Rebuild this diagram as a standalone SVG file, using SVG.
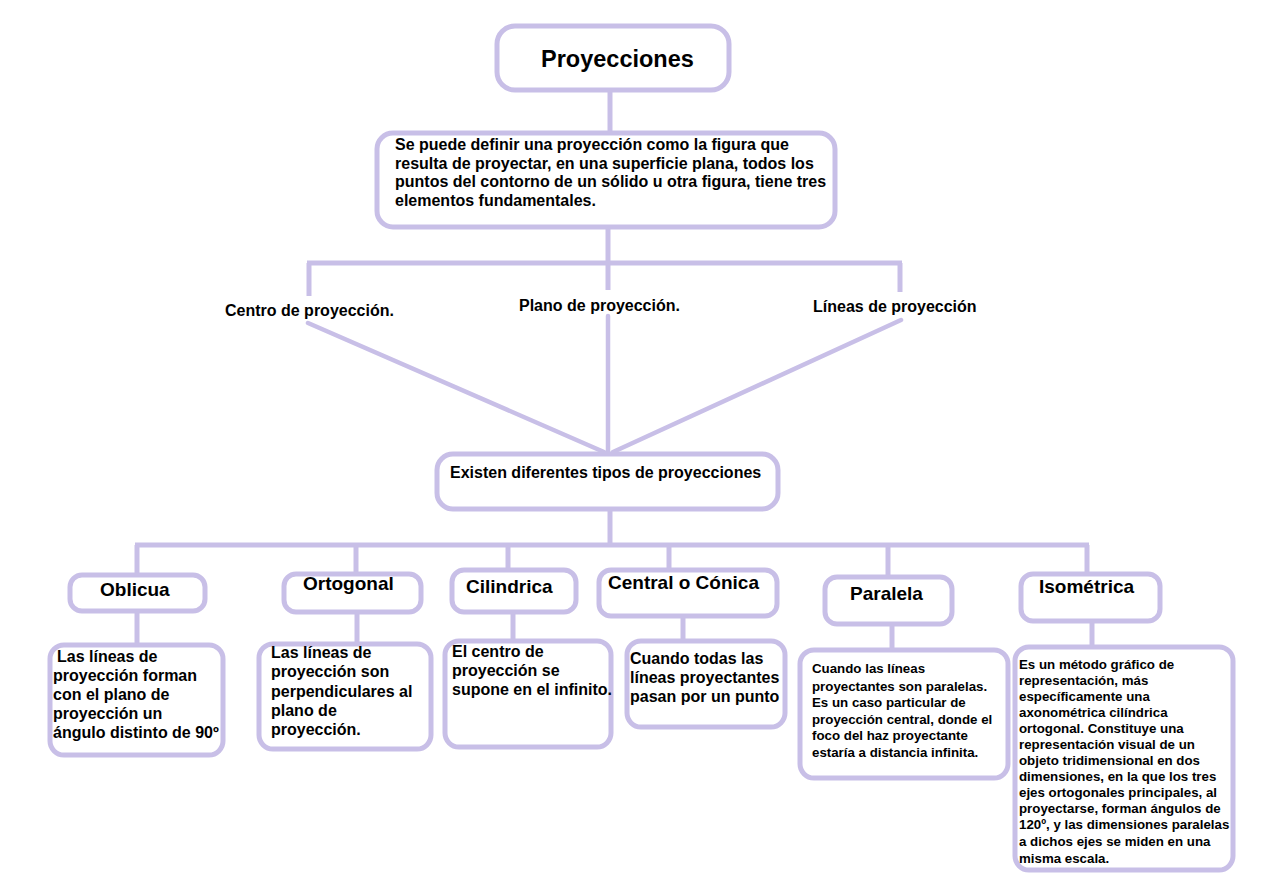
<svg xmlns="http://www.w3.org/2000/svg" width="1274" height="878" viewBox="0 0 1274 878">
<style>
.box{fill:#ffffff;stroke:#C8BFE7;stroke-width:5}
.ln{fill:none;stroke:#C8BFE7;stroke-width:5}
.diag{fill:none;stroke:#C8BFE7;stroke-width:4.5;stroke-linecap:round}
text{font-family:"Liberation Sans",Arial,sans-serif;font-weight:bold;fill:#000000}
.t16{font-size:16px}
.t13{font-size:13.3px}
.h{font-size:19px}
.title{font-size:23.5px}
</style>
<rect x="0" y="0" width="1274" height="878" fill="#ffffff"/>
<g id="connectors">
<path class="ln" d="M610,91 V132"/>
<path class="ln" d="M608,228 V263"/>
<path class="ln" d="M307,263 H902"/>
<path class="ln" d="M309,263 V296"/>
<path class="ln" d="M608,263 V290"/>
<path class="ln" d="M900,263 V292"/>
<path class="diag" d="M308,323 L604,452"/>
<path class="diag" d="M608,316 V454"/>
<path class="diag" d="M901,320 L613,452"/>
<path class="ln" d="M610,510 V545"/>
<path class="ln" d="M135,545 H1089"/>
<path class="ln" d="M137,545 V574"/>
<path class="ln" d="M356,545 V572"/>
<path class="ln" d="M508,545 V568"/>
<path class="ln" d="M669,545 V568"/>
<path class="ln" d="M888,545 V575"/>
<path class="ln" d="M1087,545 V572"/>
<path class="ln" d="M137,612 V643"/>
<path class="ln" d="M357,613 V642"/>
<path class="ln" d="M513,613 V639"/>
<path class="ln" d="M683,617 V639"/>
<path class="ln" d="M892,625 V648"/>
<path class="ln" d="M1092,622 V645"/>
</g>
<g id="n-proyecciones">
<rect class="box" x="497" y="26" width="232" height="64" rx="18"/>
<text class="title" x="541" y="67">Proyecciones</text>
</g>
<g id="n-definicion">
<rect class="box" x="377" y="133" width="458" height="94" rx="16"/>
<text class="t16" x="395" y="150">Se puede definir una proyección como la figura que</text>
<text class="t16" x="395" y="168.5">resulta de proyectar, en una superficie plana, todos los</text>
<text class="t16" x="395" y="187">puntos del contorno de un sólido u otra figura, tiene tres</text>
<text class="t16" x="395" y="205.5">elementos fundamentales.</text>
</g>
<g id="n-centro">
<text class="t16" x="225" y="316">Centro de proyección.</text>
</g>
<g id="n-plano">
<text class="t16" x="519" y="311">Plano de proyección.</text>
</g>
<g id="n-lineas">
<text class="t16" x="813" y="312">Líneas de proyección</text>
</g>
<g id="n-tipos">
<rect class="box" x="437" y="454" width="341" height="55" rx="16"/>
<text class="t16" x="450" y="478">Existen diferentes tipos de proyecciones</text>
</g>
<g id="n-oblicua">
<rect class="box" x="70" y="575" width="135" height="36" rx="12"/>
<text class="h" x="100" y="596">Oblicua</text>
</g>
<g id="n-oblicua-desc">
<rect class="box" x="50" y="645" width="173" height="110" rx="14"/>
<text class="t16" x="57" y="662">Las líneas de</text>
<text class="t16" x="53" y="681">proyección forman</text>
<text class="t16" x="53" y="700">con el plano de</text>
<text class="t16" x="53" y="719">proyección un</text>
<text class="t16" x="53" y="738">ángulo distinto de 90º</text>
</g>
<g id="n-ortogonal">
<rect class="box" x="284" y="574" width="137" height="38" rx="12"/>
<text class="h" x="303" y="590">Ortogonal</text>
</g>
<g id="n-ortogonal-desc">
<rect class="box" x="259" y="644" width="172" height="105" rx="14"/>
<text class="t16" x="271" y="658">Las líneas de</text>
<text class="t16" x="271" y="677">proyección son</text>
<text class="t16" x="271" y="697">perpendiculares al</text>
<text class="t16" x="271" y="716">plano de</text>
<text class="t16" x="271" y="735">proyección.</text>
</g>
<g id="n-cilindrica">
<rect class="box" x="452" y="570" width="124" height="42" rx="12"/>
<text class="h" x="466" y="593">Cilindrica</text>
</g>
<g id="n-cilindrica-desc">
<rect class="box" x="445" y="641" width="166" height="106" rx="14"/>
<text class="t16" x="452" y="657">El centro de</text>
<text class="t16" x="452" y="676">proyección se</text>
<text class="t16" x="452" y="695">supone en el infinito.</text>
</g>
<g id="n-central">
<rect class="box" x="599" y="570" width="178" height="46" rx="12"/>
<text class="h" x="608" y="589">Central o Cónica</text>
</g>
<g id="n-central-desc">
<rect class="box" x="627" y="641" width="158" height="86" rx="14"/>
<text class="t16" x="630" y="664">Cuando todas las</text>
<text class="t16" x="630" y="683">líneas proyectantes</text>
<text class="t16" x="630" y="702">pasan por un punto</text>
</g>
<g id="n-paralela">
<rect class="box" x="825" y="577" width="127" height="47" rx="12"/>
<text class="h" x="850" y="600">Paralela</text>
</g>
<g id="n-paralela-desc">
<rect class="box" x="800" y="650" width="208" height="128" rx="14"/>
<text class="t13" x="812" y="673">Cuando las líneas</text>
<text class="t13" x="812" y="691">proyectantes son paralelas.</text>
<text class="t13" x="812" y="707">Es un caso particular de</text>
<text class="t13" x="812" y="724">proyección central, donde el</text>
<text class="t13" x="812" y="740">foco del haz proyectante</text>
<text class="t13" x="812" y="757">estaría a distancia infinita.</text>
</g>
<g id="n-isometrica">
<rect class="box" x="1021" y="574" width="139" height="47" rx="12"/>
<text class="h" x="1039" y="593">Isométrica</text>
</g>
<g id="n-isometrica-desc">
<rect class="box" x="1015" y="647" width="218" height="223" rx="14"/>
<text class="t13" x="1019" y="669">Es un método gráfico de</text>
<text class="t13" x="1019" y="685">representación, más</text>
<text class="t13" x="1019" y="701">específicamente una</text>
<text class="t13" x="1019" y="717">axonométrica cilíndrica</text>
<text class="t13" x="1019" y="733">ortogonal. Constituye una</text>
<text class="t13" x="1019" y="749">representación visual de un</text>
<text class="t13" x="1019" y="765">objeto tridimensional en dos</text>
<text class="t13" x="1019" y="781">dimensiones, en la que los tres</text>
<text class="t13" x="1019" y="797">ejes ortogonales principales, al</text>
<text class="t13" x="1019" y="813">proyectarse, forman ángulos de</text>
<text class="t13" x="1019" y="829">120º, y las dimensiones paralelas</text>
<text class="t13" x="1019" y="846">a dichos ejes se miden en una</text>
<text class="t13" x="1019" y="863">misma escala.</text>
</g>
</svg>
